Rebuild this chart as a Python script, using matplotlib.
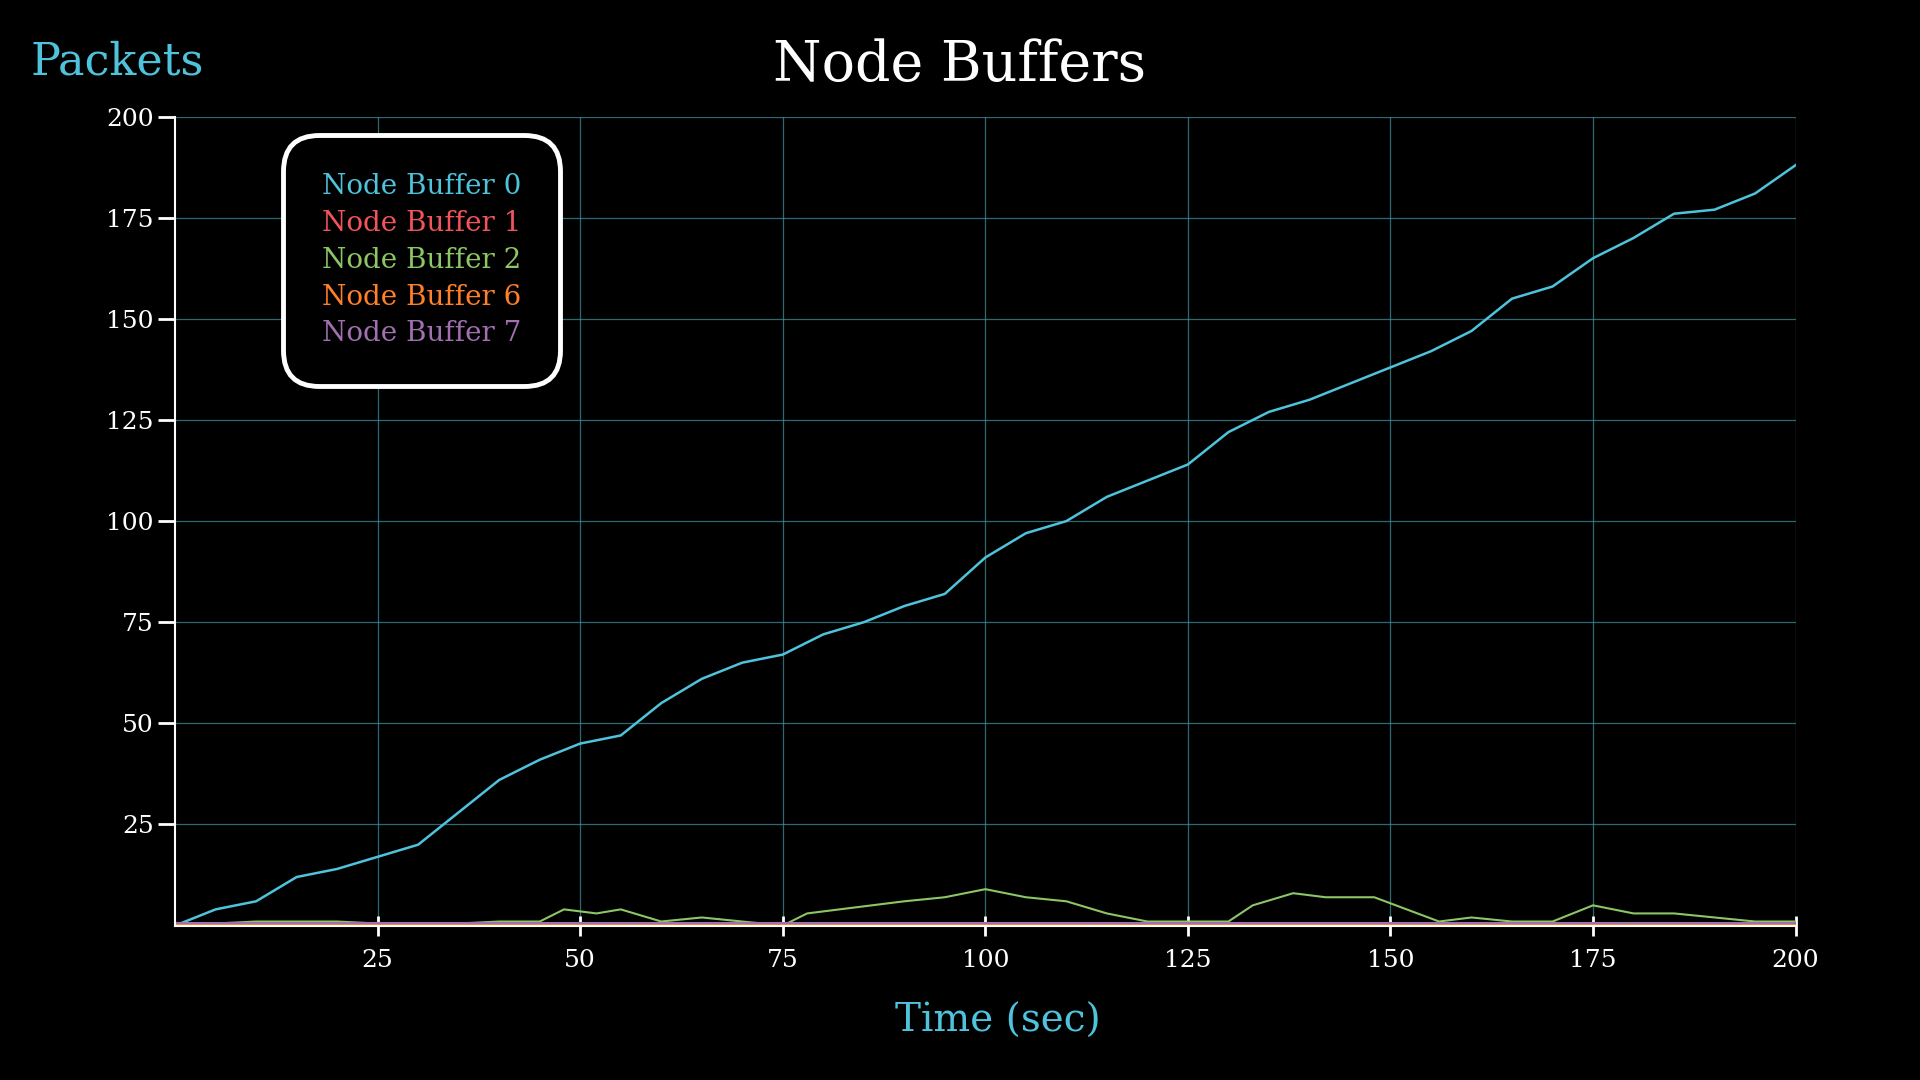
import matplotlib
matplotlib.use("Agg")
import matplotlib.pyplot as plt

# values
t_blue = [0, 5, 10, 15, 20, 25, 30, 35, 40, 45, 50, 55, 60, 65, 70, 75, 80, 85, 90, 95, 100,
          105, 110, 115, 120, 125, 130, 135, 140, 145, 150, 155, 160, 165, 170, 175, 180, 185, 190, 195, 200]
buf0 = [0, 4, 6, 12, 14, 17, 20, 28, 36, 41, 45, 47, 55, 61, 65, 67, 72, 75, 79, 82, 91,
        97, 100, 106, 110, 114, 122, 127, 130, 134, 138, 142, 147, 155, 158, 165, 170, 176, 177, 181, 188]

t_green = [0, 10, 20, 30, 40, 45, 48, 52, 55, 60, 65, 70, 75, 78, 82, 86, 90, 95, 100, 105, 110,
           115, 120, 125, 130, 133, 138, 142, 148, 152, 156, 160, 165, 170, 175, 180, 185, 190, 195, 200]
buf2 = [0, 1, 1, 0, 1, 1, 4, 3, 4, 1, 2, 1, 0, 3, 4, 5, 6, 7, 9, 7, 6,
        3, 1, 1, 1, 5, 8, 7, 7, 4, 1, 2, 1, 1, 5, 3, 3, 2, 1, 1]

t_flat = [0, 50, 100, 150, 200]
buf1 = [0.5, 0.5, 0.5, 0.5, 0.5]
buf6 = [0.3, 0.3, 0.3, 0.3, 0.3]
buf7 = [0.6, 0.6, 0.6, 0.6, 0.6]

c_blue = "#4fc3dc"
c_red = "#f2545b"
c_green = "#8cc665"
c_orange = "#ff7f2a"
c_purple = "#a070b0"

plt.rcParams['font.family'] = ['DejaVu Serif']

fig = plt.figure(figsize=(19.2, 10.8), dpi=100, facecolor="black")
ax = fig.add_axes([0.0912, 0.143, 0.844, 0.749], facecolor="black")

ax.plot(t_blue, buf0, color=c_blue, lw=1.8, label="Node Buffer 0")
ax.plot(t_flat, buf1, color=c_red, lw=1.5, label="Node Buffer 1")
ax.plot(t_green, buf2, color=c_green, lw=1.5, label="Node Buffer 2")
ax.plot(t_flat, buf6, color=c_orange, lw=1.5, label="Node Buffer 6")
ax.plot(t_flat, buf7, color=c_purple, lw=1.5, label="Node Buffer 7")

ax.set_xlim(0, 200)
ax.set_ylim(0, 200)
ax.set_xticks([25, 50, 75, 100, 125, 150, 175, 200])
ax.set_yticks([25, 50, 75, 100, 125, 150, 175, 200])
ax.grid(True, color="#3a8f9a", lw=0.9, alpha=0.75)
ax.set_axisbelow(True)

for s in ["top", "right"]:
    ax.spines[s].set_visible(False)
for s in ["left", "bottom"]:
    ax.spines[s].set_color("white")
    ax.spines[s].set_linewidth(1.5)
ax.tick_params(axis="y", colors="white", labelsize=18, length=12, width=2)
ax.tick_params(axis="x", colors="white", labelsize=18, length=14, width=2, direction="inout", pad=10)

fig.suptitle("Node Buffers", color="white", fontsize=40, x=0.5, y=0.965)
ax.set_xlabel("Time (sec)", color=c_blue, fontsize=28, labelpad=30)
ax.xaxis.set_label_coords(0.508, -0.095)
fig.text(0.016, 0.943, "Packets", color=c_blue, fontsize=32, ha="left", va="center")

leg = ax.legend(loc="upper left", bbox_to_anchor=(0.058, 0.995), handlelength=0, handletextpad=0,
                fontsize=20, frameon=True, fancybox=True, borderpad=1.4, labelspacing=0.35)
frame = leg.get_frame()
frame.set_boxstyle("round", pad=0, rounding_size=1.3)
frame.set_facecolor("black")
frame.set_edgecolor("white")
frame.set_linewidth(3.5)
frame.set_alpha(1)
for txt, line in zip(leg.get_texts(), ax.get_lines()):
    txt.set_color(line.get_color())
for h in leg.legend_handles:
    h.set_visible(False)

fig.savefig("out.png", dpi=100, facecolor="black")
